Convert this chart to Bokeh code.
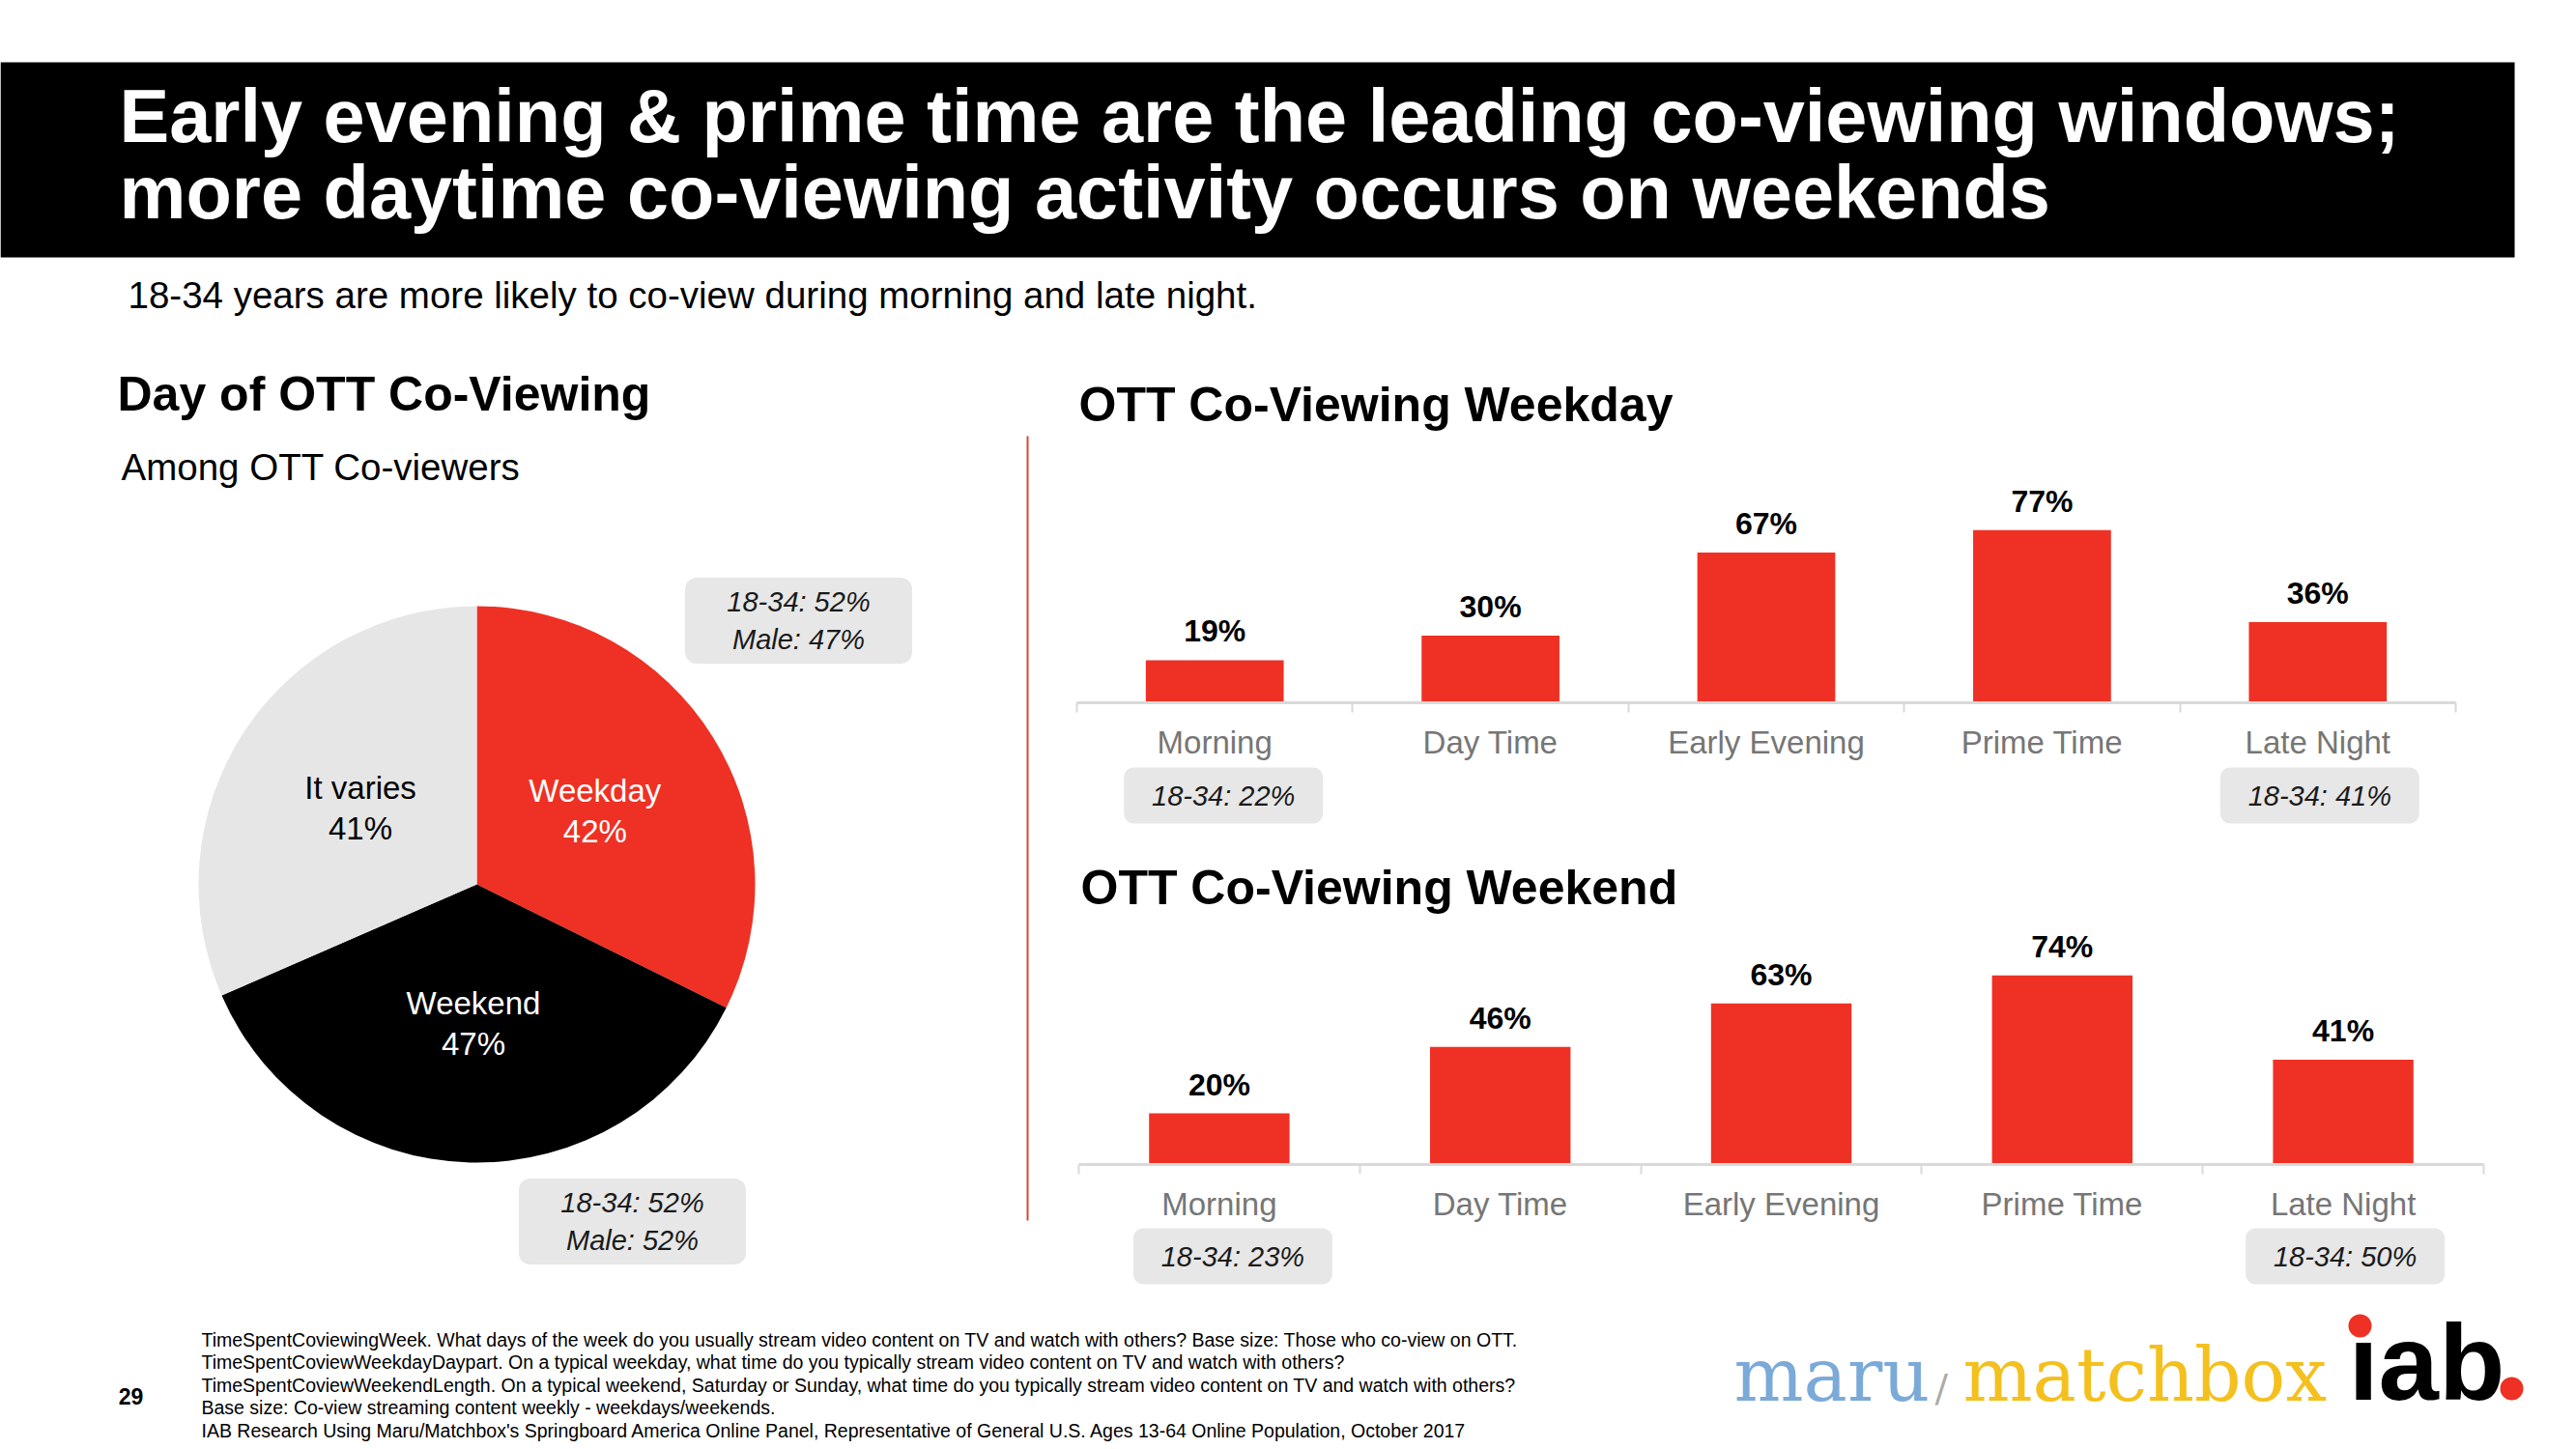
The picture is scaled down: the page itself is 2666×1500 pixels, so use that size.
import numpy as np
from bokeh.plotting import figure
from bokeh.models import Range1d, ColumnDataSource, LinearAxis, FixedTicker
from bokeh.core.properties import value
from bokeh.embed import file_html
from bokeh.resources import INLINE

# ---- data ----
title_lines = ["Early evening & prime time are the leading co-viewing windows;",
               "more daytime co-viewing activity occurs on weekends"]
subtitle = "18-34 years are more likely to co-view during morning and late night."

pie_title = "Day of OTT Co-Viewing"
pie_subtitle = "Among OTT Co-viewers"
pie_labels = ["Weekday", "Weekend", "It varies"]
pie_values = [42, 47, 41]
pie_callouts = ["18-34: 52%\nMale: 47%", "18-34: 52%\nMale: 52%"]

dayparts = ["Morning", "Day Time", "Early Evening", "Prime Time", "Late Night"]
weekday_values = [19, 30, 67, 77, 36]
weekend_values = [20, 46, 63, 74, 41]
weekday_callout_cats = ["Morning", "Late Night"]
weekday_callouts = ["18-34: 22%", "18-34: 41%"]
weekend_callout_cats = ["Morning", "Late Night"]
weekend_callouts = ["18-34: 23%", "18-34: 50%"]

footer_lines = [
    "TimeSpentCoviewingWeek. What days of the week do you usually stream video content on TV and watch with others? Base size: Those who co-view on OTT.",
    "TimeSpentCoviewWeekdayDaypart. On a typical weekday, what time do you typically stream video content on TV and watch with others?",
    "TimeSpentCoviewWeekendLength. On a typical weekend, Saturday or Sunday, what time do you typically stream video content on TV and watch with others?",
    "Base size: Co-view streaming content weekly - weekdays/weekends.",
    "IAB Research Using Maru/Matchbox's Springboard America Online Panel, Representative of General U.S. Ages 13-64 Online Population, October 2017",
]
page_number = "29"

# ---- styles ----
SANS = "Liberation Sans"
RED = "#ee3124"
BOX_GRAY = "#e7e7e7"
PIE_GRAY = "#e6e6e6"
AXIS_GRAY = "#d9d9d9"
LABEL_GRAY = "#767676"

W, H = 2666, 1500

# one page-sized canvas, data units = pixels, y grows downward
p = figure(width=W, height=H, x_range=Range1d(0, W), y_range=Range1d(H, 0),
           toolbar_location=None, output_backend="svg", x_axis_location=None, y_axis_location=None,
           min_border=0, outline_line_color=None, background_fill_color="white",
           border_fill_color="white")
p.grid.visible = False


def txt(x, y, s, size, color="black", style="normal", align="left", font=SANS):
    p.text(x=[x], y=[y], text=[s], text_font=value(font), text_font_size=f"{size}px",
           text_font_style=style, text_color=color, text_align=align, text_baseline="middle")


# ---- header ----
p.quad(left=0, right=2602, top=64, bottom=266, fill_color="black", line_color=None)
txt(123, 119, title_lines[0], 77.5, color="white", style="bold")
txt(123, 198, title_lines[1], 77.5, color="white", style="bold")
txt(132, 305, subtitle, 38.5)

# ---- pie ----
txt(121, 407, pie_title, 50, style="bold")
txt(125, 483, pie_subtitle, 38.5)

PIE_X, PIE_Y, PIE_R = 493, 915, 288
fracs = np.array(pie_values) / sum(pie_values) * 2 * np.pi
cum = np.cumsum(fracs)
ends = np.pi / 2 - (cum - fracs)
starts = np.pi / 2 - cum
mids = (starts + ends) / 2
pie_src = ColumnDataSource(dict(
    start=starts, end=ends, color=[RED, "black", PIE_GRAY],
    lx=PIE_X + 0.5 * PIE_R * np.cos(mids), ly=PIE_Y - 0.5 * PIE_R * np.sin(mids),
    lab=[f"{n}\n{v}%" for n, v in zip(pie_labels, pie_values)],
    lcol=["white", "white", "black"]))
p.wedge(x=PIE_X, y=PIE_Y, radius=PIE_R, start_angle="start", end_angle="end",
        fill_color="color", line_color=None, source=pie_src)
p.text(x="lx", y="ly", text="lab", text_color="lcol", source=pie_src, text_font=value(SANS),
       text_font_size="33px", text_align="center", text_baseline="middle", text_line_height=1.15)

callout_pos = [(826, 642), (654, 1264)]
p.rect(x=[c[0] for c in callout_pos], y=[c[1] for c in callout_pos], width=235, height=89,
       fill_color=BOX_GRAY, line_color=None, border_radius=12)
p.text(x=[c[0] for c in callout_pos], y=[c[1] for c in callout_pos], text=pie_callouts,
       text_font=value(SANS), text_font_size="29px", text_font_style="italic",
       text_align="center", text_baseline="middle", text_color="#1a1a1a", text_line_height=1.2)

# red divider
p.segment(x0=1063, y0=451, x1=1063, y1=1263, line_color="#d9443b", line_width=2)


# ---- bar charts ----
def bar_chart(name, title, values, callout_cats, callouts, x_left, x_right, base_y, px_per_pct,
              title_y, box_y, box_shift):
    n = len(dayparts)
    pitch = (x_right - x_left) / n
    xr, yr = name + "_x", name + "_y"
    p.extra_x_ranges[xr] = Range1d(-x_left / pitch, (W - x_left) / pitch)
    p.extra_y_ranges[yr] = Range1d((base_y - H) / px_per_pct, base_y / px_per_pct)

    centers = np.arange(n) + 0.5
    src = ColumnDataSource(dict(x=centers, val=values, lab=[f"{v}%" for v in values],
                                lab_y=[v + 30 / px_per_pct for v in values]))
    p.vbar(x="x", top="val", bottom=0, width=0.5, source=src, fill_color=RED, line_color=None,
           x_range_name=xr, y_range_name=yr)
    p.text(x="x", y="lab_y", text="lab", source=src, text_font=value(SANS), text_font_size="32px",
           text_font_style="bold", text_align="center", text_baseline="middle", text_color="black",
           x_range_name=xr, y_range_name=yr)

    ax = LinearAxis(x_range_name=xr, y_range_name=yr, fixed_location=0, bounds=(0, n),
                    ticker=FixedTicker(ticks=list(centers), minor_ticks=list(range(n + 1))),
                    major_label_overrides={float(c): d for c, d in zip(centers, dayparts)})
    ax.axis_line_color = AXIS_GRAY
    ax.axis_line_width = 3
    ax.major_tick_line_color = None
    ax.major_tick_in = 0
    ax.major_tick_out = 0
    ax.minor_tick_line_color = AXIS_GRAY
    ax.minor_tick_line_width = 2
    ax.minor_tick_in = 0
    ax.minor_tick_out = 10
    ax.major_label_standoff = 12
    ax.major_label_text_font = SANS
    ax.major_label_text_font_size = "33px"
    ax.major_label_text_color = LABEL_GRAY
    p.add_layout(ax, "below")

    txt(x_left + 2, title_y, title, 50, style="bold")

    bx = [centers[dayparts.index(c)] + s / pitch for c, s in zip(callout_cats, box_shift)]
    by = [(base_y - box_y) / px_per_pct] * len(callout_cats)
    p.rect(x=bx, y=by, width=206, height=58, width_units="screen", height_units="screen",
           fill_color=BOX_GRAY, line_color=None, border_radius=10, x_range_name=xr, y_range_name=yr)
    p.text(x=bx, y=by, text=callouts, text_font=value(SANS), text_font_size="29px",
           text_font_style="italic", text_align="center", text_baseline="middle",
           text_color="#1a1a1a", x_range_name=xr, y_range_name=yr)


bar_chart("wd", "OTT Co-Viewing Weekday", weekday_values, weekday_callout_cats, weekday_callouts,
          1114, 2541, 727, 2.32, 418, 823, [9, 2])
bar_chart("we", "OTT Co-Viewing Weekend", weekend_values, weekend_callout_cats, weekend_callouts,
          1116, 2570, 1205, 2.645, 918, 1300, [14, 2])

# ---- footer ----
for i, line in enumerate(footer_lines):
    txt(208, 1386 + i * 23.5, line, 19.5)
txt(135, 1445, page_number, 23, style="bold", align="center")

txt(1794, 1423, "maru", 76, color="#7baad8", font="DejaVu Serif")
txt(2002, 1436, "/", 40, color="#aaaaaa", font="DejaVu Serif")
txt(2031, 1423, "matchbox", 76, color="#f4c01e", font="DejaVu Serif")
txt(2430, 1410, "\u0131ab", 112, style="bold")
p.circle(x=[2442, 2599], y=[1372, 1437], radius=12, fill_color=RED, line_color=None)

open("out.html", "w").write(file_html(p, INLINE))
